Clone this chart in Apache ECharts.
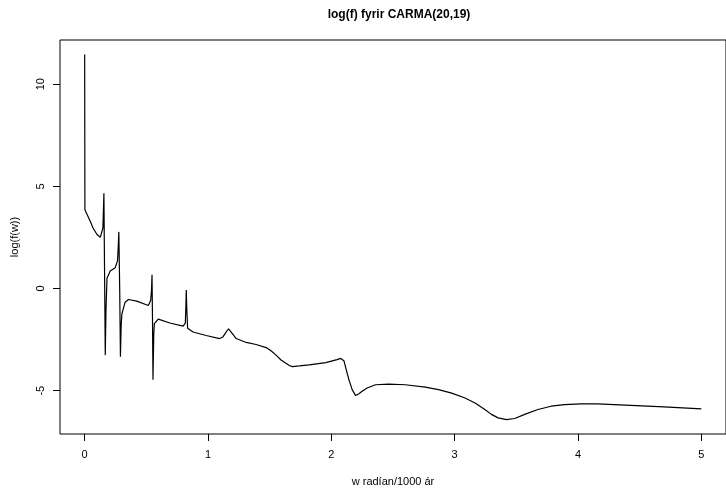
<!DOCTYPE html>
<html lang="is">
<head>
    <meta charset="UTF-8">
    <title>log(f) fyrir CARMA(20,19)</title>
    <script src="https://cdn.jsdelivr.net/npm/echarts@6/dist/echarts.min.js"></script>
    <style>
        html, body { margin: 0; padding: 0; background: #fff; }
    </style>
</head>
<body>
<div id="chart" style="width: 726px;height:492px;"></div>
<script>
    // tíðni w (radían/1000 ár) og log(f(w)), lesið af myndinni
    var wValues = [
        0, 0.002, 0.006, 0.046, 0.068, 0.100, 0.127, 0.140, 0.148, 0.156,
        0.161, 0.167, 0.173, 0.181, 0.207, 0.248, 0.266, 0.272, 0.277, 0.284,
        0.290, 0.296, 0.302, 0.328, 0.355, 0.423, 0.516, 0.535, 0.542, 0.546,
        0.550, 0.554, 0.560, 0.565, 0.597, 0.691, 0.798, 0.816, 0.820, 0.824,
        0.828, 0.835, 0.879, 0.985, 1.094, 1.121, 1.151, 1.167, 1.183, 1.229,
        1.310, 1.390, 1.471, 1.511, 1.552, 1.592, 1.632, 1.659, 1.685, 1.740,
        1.820, 1.955, 2.046, 2.076, 2.102, 2.121, 2.143, 2.169, 2.197, 2.223,
        2.250, 2.290, 2.358, 2.465, 2.600, 2.761, 2.869, 2.976, 3.084, 3.165,
        3.245, 3.298, 3.352, 3.419, 3.487, 3.568, 3.675, 3.782, 3.890, 4.024,
        4.159, 4.294, 4.697, 5.0
    ];
    var logfValues = [
        11.45, 3.85, 3.77, 3.28, 2.96, 2.64, 2.51, 2.6, 2.96, 4.66,
        1.0, -3.26, -1.0, 0.5, 0.86, 1.02, 1.35, 2.0, 2.77, 0.0,
        -3.34, -1.8, -1.24, -0.67, -0.54, -0.62, -0.83, -0.59, -0.1, 0.67,
        -1.5, -4.47, -2.3, -1.72, -1.5, -1.69, -1.84, -1.7, -1.0, -0.08,
        -1.0, -1.95, -2.13, -2.3, -2.45, -2.37, -2.1, -1.97, -2.1, -2.45,
        -2.64, -2.74, -2.89, -3.05, -3.26, -3.5, -3.66, -3.77, -3.82, -3.79,
        -3.74, -3.63, -3.48, -3.42, -3.53, -3.98, -4.47, -4.95, -5.24, -5.15,
        -5.03, -4.87, -4.71, -4.68, -4.71, -4.83, -4.95, -5.12, -5.36, -5.6,
        -5.92, -6.16, -6.33, -6.42, -6.36, -6.16, -5.92, -5.76, -5.68, -5.65,
        -5.65, -5.68, -5.79, -5.89
    ];
    var xTicks = [0, 1, 2, 3, 4, 5];
    var yTicks = [-5, 0, 5, 10];

    var points = wValues.map(function (w, i) {
        return [w, logfValues[i]];
    });

    var font = 'Liberation Sans, Arial, Helvetica, sans-serif';
    var myChart = echarts.init(document.getElementById('chart'));
    var option = {
        animation: false,
        backgroundColor: '#fff',
        title: {
            text: 'log(f) fyrir CARMA(20,19)',
            left: 394,
            textAlign: 'center',
            top: 4,
            textStyle: { fontFamily: font, fontSize: 12, fontWeight: 'bold', color: '#000' }
        },
        grid: {
            left: 60, top: 40, right: -3, bottom: 54,
            show: true, borderColor: '#000', borderWidth: 1
        },
        xAxis: {
            type: 'value',
            min: -0.2, max: 5.2,
            name: 'w radían/1000 ár',
            nameLocation: 'middle',
            nameGap: 42,
            nameTextStyle: { fontFamily: font, fontSize: 11, color: '#000' },
            axisLine: { show: false, onZero: false },
            splitLine: { show: false },
            axisTick: { show: true, length: 7, customValues: xTicks, lineStyle: { color: '#000' } },
            axisLabel: { customValues: xTicks, margin: 15, fontFamily: font, fontSize: 11, color: '#000' }
        },
        yAxis: {
            type: 'value',
            min: -7.12, max: 12.16,
            name: 'log(f(w))',
            nameLocation: 'middle',
            nameGap: 40,
            nameTextStyle: { fontFamily: font, fontSize: 11, color: '#000' },
            axisLine: { show: false, onZero: false },
            splitLine: { show: false },
            axisTick: { show: true, length: 7, customValues: yTicks, lineStyle: { color: '#000' } },
            axisLabel: { customValues: yTicks, rotate: 90, margin: 14, fontFamily: font, fontSize: 11, color: '#000' }
        },
        series: [{
            type: 'line',
            data: points,
            showSymbol: false,
            smooth: false,
            lineStyle: { color: '#000', width: 1.2 }
        }]
    };
    myChart.setOption(option);
</script>
</body>
</html>
